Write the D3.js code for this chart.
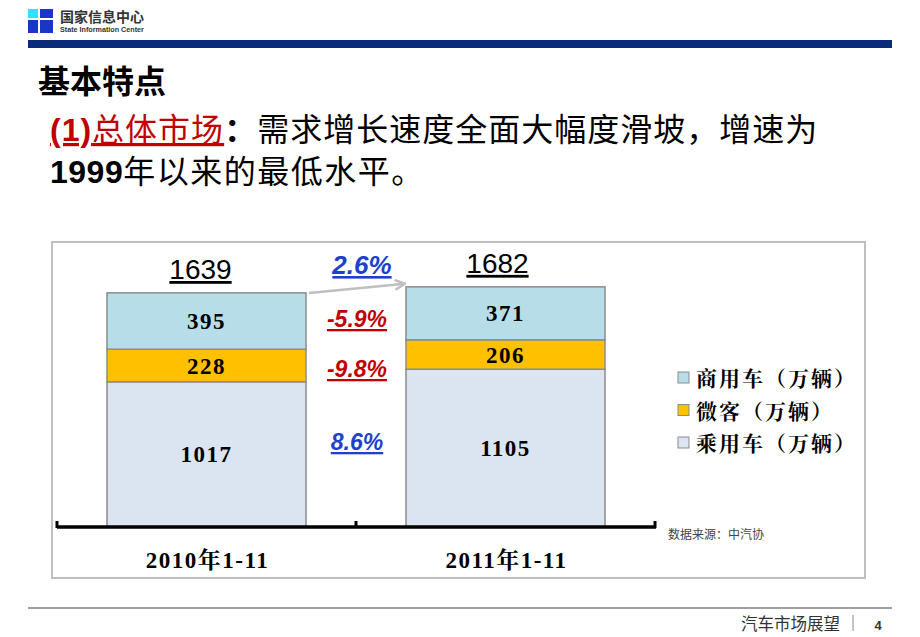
<!DOCTYPE html>
<html>
<head>
<meta charset="utf-8">
<script src="https://cdn.jsdelivr.net/npm/d3@7"></script>
<style>
  body { margin: 0; background: #fff; }
  svg { display: block; }
</style>
</head>
<body>
<div id="chart"></div>
<script>
// chart data
const periods = ["2010年1-11", "2011年1-11"];
const seriesNames = ["乘用车（万辆）", "微客（万辆）", "商用车（万辆）"];
const passenger = [1017, 1105];
const microbus = [228, 206];
const commercial = [395, 371];
const totals = [1639, 1682];
const growthLabels = ["8.6%", "-9.8%", "-5.9%"]; // per series, bottom to top
const totalGrowth = "2.6%";

const W = 920, H = 637;
const svg = d3.select("#chart").append("svg").attr("width", W).attr("height", H);

const sans = "Arial, 'Liberation Sans', 'Noto Sans CJK SC', sans-serif";
const cjk = "'Noto Sans CJK SC', sans-serif";
const serif = "'Liberation Serif', 'DejaVu Serif', 'Noto Serif CJK SC', 'Noto Sans CJK SC', serif";

// ---- header ----
const logo = svg.append("g").attr("transform", "translate(28,9)");
logo.append("rect").attr("width", 25).attr("height", 24).attr("fill", "#1a35c8");
logo.append("rect").attr("width", 10).attr("height", 9).attr("fill", "#33e0ff");
logo.append("rect").attr("x", 10).attr("y", 0).attr("width", 2).attr("height", 24).attr("fill", "#fff");
logo.append("rect").attr("x", 0).attr("y", 9).attr("width", 25).attr("height", 2).attr("fill", "#fff");
svg.append("text").attr("x", 60).attr("y", 22).text("国家信息中心")
  .attr("font-family", cjk).attr("font-size", 14).attr("font-weight", "bold").attr("fill", "#333");
svg.append("text").attr("x", 60).attr("y", 32).text("State Information Center")
  .attr("font-family", sans).attr("font-size", 7.2).attr("font-weight", "bold").attr("fill", "#333");
svg.append("rect").attr("x", 28).attr("y", 40).attr("width", 864).attr("height", 8).attr("fill", "#0a2a7a");

// ---- title text ----
svg.append("text").attr("x", 38).attr("y", 93).text("基本特点")
  .attr("font-family", cjk).attr("font-size", 32).attr("font-weight", "bold").attr("fill", "#000");

const line2 = svg.append("text").attr("x", 50).attr("y", 141)
  .attr("font-family", cjk).attr("font-size", 32).attr("letter-spacing", 1);
line2.append("tspan").text("(1)").attr("fill", "#c00000").attr("font-family", sans)
  .attr("font-weight", "bold").attr("text-decoration", "underline");
line2.append("tspan").text("总体市场").attr("fill", "#c00000")
  .attr("text-decoration", "underline");
line2.append("tspan").text("：").attr("fill", "#000").attr("font-weight", "bold");
line2.append("tspan").text("需求增长速度全面大幅度滑坡，增速为").attr("fill", "#000");

const line3 = svg.append("text").attr("x", 50).attr("y", 183)
  .attr("font-family", cjk).attr("font-size", 32).attr("fill", "#000").attr("letter-spacing", 1.5);
line3.append("tspan").text("1999").attr("font-family", sans).attr("font-weight", "bold")
  .attr("letter-spacing", 0.5);
line3.append("tspan").text("年以来的最低水平。");

// ---- chart frame ----
svg.append("rect").attr("x", 52).attr("y", 242).attr("width", 813).attr("height", 336)
  .attr("fill", "#fff").attr("stroke", "#bfbfbf").attr("stroke-width", 2);

const axisY = 527;
const x = d3.scaleBand().domain(periods).range([57, 655]).paddingInner(0).paddingOuter(0);
const y = d3.scaleLinear().domain([0, 1639]).range([axisY, 293]);

const colors = ["#dbe5f1", "#ffc000", "#b7dde8"];
const series = [passenger, microbus, commercial];
const stackData = periods.map((p, i) => ({ period: p, s0: passenger[i], s1: microbus[i], s2: commercial[i] }));
const stacked = d3.stack().keys(["s0", "s1", "s2"])(stackData);

const barW = 199;
const g = svg.append("g");
stacked.forEach((layer, k) => {
  layer.forEach((d, i) => {
    const cx = x(periods[i]) + x.bandwidth() / 2;
    g.append("rect")
      .attr("x", cx - barW / 2)
      .attr("y", y(d[1]))
      .attr("width", barW)
      .attr("height", y(d[0]) - y(d[1]))
      .attr("fill", colors[k])
      .attr("stroke", "#8c8c8c").attr("stroke-width", 1.5);
    g.append("text")
      .attr("x", cx)
      .attr("y", (y(d[0]) + y(d[1])) / 2 + 8)
      .attr("text-anchor", "middle")
      .attr("font-family", serif).attr("font-size", 23).attr("font-weight", "bold")
      .attr("letter-spacing", 1.5)
      .attr("fill", "#000")
      .text(series[k][i]);
  });
});

// axis with end and middle ticks
const axisG = svg.append("g").attr("transform", `translate(0,${axisY})`);
axisG.append("line").attr("x1", 57).attr("x2", 656).attr("y1", 0).attr("y2", 0)
  .attr("stroke", "#000").attr("stroke-width", 3.5);
const tickXs = [57, x(periods[1]), 655];
tickXs.forEach(tx => {
  axisG.append("line").attr("x1", tx).attr("x2", tx).attr("y1", 1).attr("y2", -6)
    .attr("stroke", "#000").attr("stroke-width", 3);
});
periods.forEach(p => {
  axisG.append("text")
    .attr("x", x(p) + x.bandwidth() / 2 + 1)
    .attr("y", 41)
    .attr("text-anchor", "middle")
    .attr("font-family", serif).attr("font-size", 23).attr("font-weight", "bold")
    .attr("letter-spacing", 1.5)
    .text(p);
});

// totals
totals.forEach((t, i) => {
  const cx = x(periods[i]) + x.bandwidth() / 2;
  svg.append("text")
    .attr("x", cx - (i === 0 ? 6 : 8))
    .attr("y", y(t) - 14)
    .attr("text-anchor", "middle")
    .attr("font-family", sans).attr("font-size", 28)
    .attr("text-decoration", "underline")
    .attr("fill", "#000")
    .text(t);
});

// growth arrow
svg.append("defs").append("marker")
  .attr("id", "arr").attr("viewBox", "0 0 10 10").attr("refX", 9).attr("refY", 5)
  .attr("markerWidth", 5).attr("markerHeight", 5).attr("orient", "auto")
  .append("path").attr("d", "M1,1 L9,5 L1,9").attr("fill", "none")
  .attr("stroke", "#bfbfbf").attr("stroke-width", 2);
svg.append("line")
  .attr("x1", 309).attr("y1", y(totals[0]))
  .attr("x2", 405).attr("y2", y(totals[1]) - 3)
  .attr("stroke", "#bfbfbf").attr("stroke-width", 2.5)
  .attr("marker-end", "url(#arr)");

const growthColor = v => v.startsWith("-") ? "#c00000" : "#1f3fcf";
const gx = 357;
const growthItems = [
  { t: totalGrowth, yy: 274, xx: 362, fs: 26 },
  { t: growthLabels[2], yy: 327, xx: gx, fs: 23 },
  { t: growthLabels[1], yy: 377, xx: gx, fs: 23 },
  { t: growthLabels[0], yy: 450, xx: gx, fs: 23 }
];
growthItems.forEach(d => {
  svg.append("text")
    .attr("x", d.xx).attr("y", d.yy)
    .attr("text-anchor", "middle")
    .attr("font-family", sans).attr("font-size", d.fs)
    .attr("font-weight", "bold").attr("font-style", "italic")
    .attr("text-decoration", "underline")
    .attr("fill", growthColor(d.t))
    .text(d.t);
});

// legend (top to bottom: commercial, microbus, passenger)
const legendOrder = [2, 1, 0];
legendOrder.forEach((k, i) => {
  const ly = 378 + i * 32.5;
  svg.append("rect").attr("x", 678).attr("y", ly - 6).attr("width", 11).attr("height", 11)
    .attr("fill", colors[k]).attr("stroke", "#8c8c8c").attr("stroke-width", 1);
  svg.append("text").attr("x", 696).attr("y", ly + 8)
    .attr("font-family", serif).attr("font-size", 21).attr("font-weight", "bold")
    .attr("letter-spacing", 2)
    .text(seriesNames[k]);
});

svg.append("text").attr("x", 668).attr("y", 539).text("数据来源：中汽协")
  .attr("font-family", cjk).attr("font-size", 12).attr("fill", "#444");

// ---- footer ----
svg.append("line").attr("x1", 28).attr("x2", 892).attr("y1", 608).attr("y2", 608)
  .attr("stroke", "#808080").attr("stroke-width", 1.5);
svg.append("text").attr("x", 840).attr("y", 630).attr("text-anchor", "end").text("汽车市场展望")
  .attr("font-family", cjk).attr("font-size", 16.5).attr("fill", "#333");
svg.append("line").attr("x1", 853).attr("x2", 853).attr("y1", 615).attr("y2", 631)
  .attr("stroke", "#888").attr("stroke-width", 1);
svg.append("text").attr("x", 878).attr("y", 630).attr("text-anchor", "middle").text("4")
  .attr("font-family", sans).attr("font-size", 13).attr("font-weight", "bold").attr("fill", "#333");
</script>
</body>
</html>
